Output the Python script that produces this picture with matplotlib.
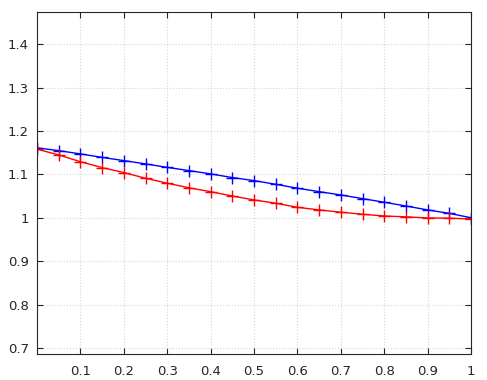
import numpy as np
import matplotlib
matplotlib.use('Agg')
import matplotlib.pyplot as plt

x = [0.0, 0.05, 0.1, 0.15, 0.2, 0.25, 0.3, 0.35, 0.4, 0.45, 0.5,
     0.55, 0.6, 0.65, 0.7, 0.75, 0.8, 0.85, 0.9, 0.95, 1.0]
blue = [1.161, 1.1546, 1.147, 1.139, 1.1316, 1.124, 1.116, 1.1086, 1.101, 1.0925, 1.0855,
        1.077, 1.068, 1.060, 1.0525, 1.044, 1.0357, 1.027, 1.018, 1.010, 1.000]
red = [1.158, 1.1447, 1.129, 1.1155, 1.104, 1.091, 1.0795, 1.069, 1.060, 1.050, 1.041,
       1.0334, 1.024, 1.018, 1.0127, 1.008, 1.004, 1.002, 0.9995, 0.999, 0.997]
xticks = [0.1, 0.2, 0.3, 0.4, 0.5, 0.6, 0.7, 0.8, 0.9, 1.0]
xlabels = ['0.1', '0.2', '0.3', '0.4', '0.5', '0.6', '0.7', '0.8', '0.9', '1']
yticks = [0.7, 0.8, 0.9, 1.0, 1.1, 1.2, 1.3, 1.4]
ylabels = ['0.7', '0.8', '0.9', '1', '1.1', '1.2', '1.3', '1.4']

fig = plt.figure(figsize=(4.87, 3.8), dpi=100)
ax = fig.add_axes([37 / 487, 26 / 380, 434 / 487, 342 / 380])

ax.plot(x, blue, color='#0000ff', marker='+', markersize=8, linewidth=1)
ax.plot(x, red, color='#ff0000', marker='+', markersize=8, linewidth=1)

ax.set_xlim(0, 1)
ax.set_ylim(0.686, 1.474)
ax.set_xticks(xticks)
ax.set_xticklabels(xlabels)
ax.set_yticks(yticks)
ax.set_yticklabels(ylabels)
ax.grid(True, linestyle=':', color='#d6d6d6', linewidth=0.8)
ax.tick_params(direction='in', top=True, right=True, length=4,
               labelsize=9.5, labelcolor='#262626', color='#262626')
ax.tick_params(axis='x', pad=8)
ax.tick_params(axis='y', pad=6)
for s in ax.spines.values():
    s.set_color('#262626')

fig.savefig('out.png', dpi=100)
